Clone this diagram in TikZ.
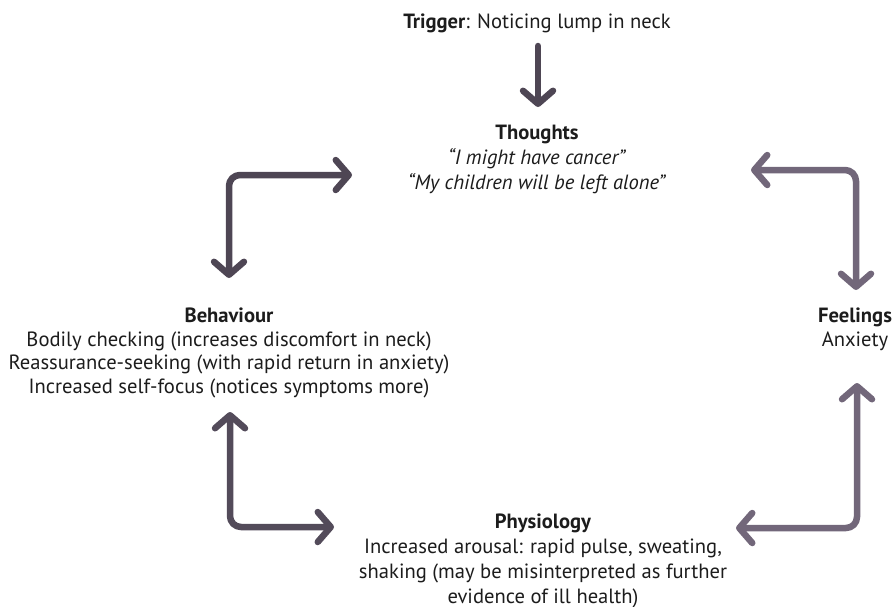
\documentclass[tikz,border=0pt]{standalone}
\usepackage{fontspec}
\setmainfont{PT Sans}
\usetikzlibrary{arrows.meta}
\definecolor{arrdark}{HTML}{4E4654}
\definecolor{arrlight}{HTML}{72677A}
\definecolor{txt}{HTML}{1C1C1C}
\tikzset{
  blocktext/.style={align=center, text=txt, inner sep=0pt, font=\fontsize{20.6}{23.5}\selectfont},
  loosetext/.style={blocktext, font=\fontsize{20.6}{25}\selectfont},
  cyclearrow/.style={line width=6.5pt, rounded corners=11pt, line cap=round, line join=round,
     -{Straight Barb[length=13pt, width=30pt, line cap=round, line join=round]}},
  dblarrow/.style={cyclearrow, {Straight Barb[length=13pt, width=30pt, line cap=round, line join=round]}-{Straight Barb[length=13pt, width=30pt, line cap=round, line join=round]}}
}
\begin{document}
\begin{tikzpicture}[x=1pt, y=-1pt]
\useasboundingbox (0,0) rectangle (894,606);

\node[blocktext] (trigger) at (537,23) {\textbf{Trigger}: Noticing lump in neck};
\node[loosetext] (thoughts) at (537,159) {\textbf{Thoughts}\\ \textit{“I might have cancer”}\\ \textit{“My children will be left alone”}};
\node[blocktext] (behaviour) at (229,353) {\textbf{Behaviour}\\ Bodily checking (increases discomfort in neck)\\ Reassurance-seeking (with rapid return in anxiety)\\ Increased self-focus (notices symptoms more)};
\node[blocktext] (feelings) at (855,329.5) {\textbf{Feelings}\\ Anxiety};
\node[loosetext] (physiology) at (543,561) {\textbf{Physiology}\\ Increased arousal: rapid pulse, sweating,\\ shaking (may be misinterpreted as further\\ evidence of ill health)};

% arrow end points
\coordinate (tA) at (538,46);
\coordinate (tB) at (538,107);
\coordinate (lA) at (352,175);
\coordinate (lB) at (229,278);
\coordinate (rA) at (751,170);
\coordinate (rB) at (856,290);
\coordinate (blA) at (230,412);
\coordinate (blB) at (334,527);
\coordinate (brA) at (857,383);
\coordinate (brB) at (736,528);

\draw[cyclearrow, draw=arrdark] (tA) -- (tB);
\draw[dblarrow, draw=arrdark] (lB) |- (lA);
\draw[dblarrow, draw=arrlight] (rA) -| (rB);
\draw[dblarrow, draw=arrdark!85!arrlight] (blA) |- (blB);
\draw[dblarrow, draw=arrlight] (brA) |- (brB);
\end{tikzpicture}
\end{document}
